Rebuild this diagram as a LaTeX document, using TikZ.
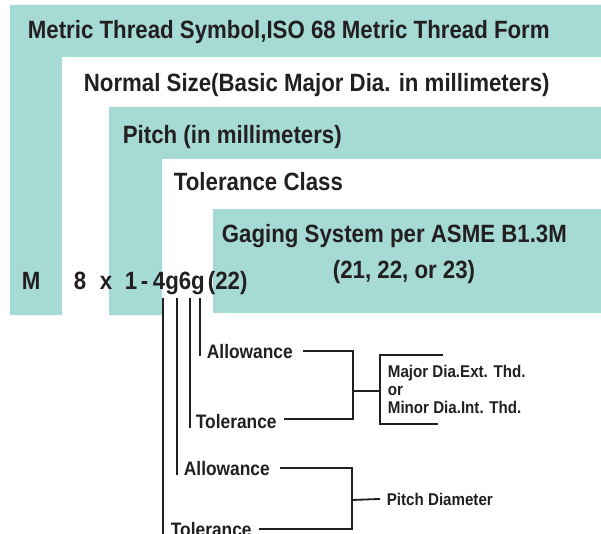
\documentclass[tikz,border=0pt]{standalone}
\usepackage{fontspec}
\setmainfont[FakeStretch=0.89]{Liberation Sans}
\definecolor{threadteal}{RGB}{166,218,213}
\definecolor{ink}{RGB}{35,31,32}

\tikzset{every picture/.style={line width=1.8pt}}
\tikzset{
  bigtxt/.style={anchor=base west, inner sep=0pt, text=ink, font=\fontsize{25}{30}\selectfont\bfseries},
  midtxt/.style={anchor=base west, inner sep=0pt, text=ink, font=\fontsize{19.5}{23}\selectfont\bfseries},
  smalltxt/.style={anchor=base west, inner sep=0pt, text=ink, font=\fontsize{17}{18}\selectfont\bfseries},
  lead/.style={draw=ink, line width=1.8pt},
}

\begin{document}
\begin{tikzpicture}[x=1pt,y=1pt,yscale=-1,xscale=1]
                \useasboundingbox (0,0) rectangle (601,534);

                %Shape: teal bands
                \fill [threadteal] (10,5) -- (601,5) -- (601,57) -- (62,57) -- (62,315) -- (10,315) -- cycle ;
                \fill [threadteal] (109,107) -- (601,107) -- (601,159) -- (162,159) -- (162,315) -- (109,315) -- cycle ;
                \fill [threadteal] (213,209) rectangle (601,313) ;

                %Text: band titles
                \node [bigtxt] (symbol) at (27,39) {Metric Thread Symbol,ISO 68 Metric Thread Form};
                \node [bigtxt] (size) at (83,92) {Normal Size(Basic Major Dia. in millimeters)};
                \node [bigtxt] (pitch) at (122,144) {Pitch (in millimeters)};
                \node [bigtxt] (class) at (173,191) {Tolerance Class};
                \node [bigtxt] (gage) at (221,243) {Gaging System per ASME B1.3M};
                \node [bigtxt] (gagenum) at (332,278) {(21, 22, or 23)};

                %Text: designation
                \node [bigtxt] (m) at (21,289) {M};
                \node [bigtxt] (dia) at (73,289) {8};
                \node [bigtxt] (times) at (99,289) {x};
                \node [bigtxt] (p) at (124,289) {1};
                \node [bigtxt] (dash) at (140,289) {-};
                \node [bigtxt] (tol) at (152,289) {4g6g};
                \node [bigtxt] (gnum) at (207,289) {(22)};

                %Text: breakdown
                \node [midtxt] (allow1) at (206,358) {Allowance};
                \node [midtxt] (toler1) at (195,428) {Tolerance};
                \node [midtxt] (allow2) at (183,475) {Allowance};
                \node [midtxt] (toler2) at (170,536) {Tolerance};
                \node [smalltxt, align=left] (thd) at (387,413) {Major Dia.Ext. Thd.\\or\\Minor Dia.Int. Thd.};
                \node [smalltxt] (pd) at (386,505) {Pitch Diameter};

                %Straight Lines: leaders under 4g6g
                \coordinate (v1) at (163,298);
                \coordinate (v2) at (177,298);
                \coordinate (v3) at (190,298);
                \coordinate (v4) at (200,298);
                \draw [lead] (v1) -- (v1 |- toler2.base) ;
                \draw [lead] (v2) -- (v2 |- allow2.base) ;
                \draw [lead] (v3) -- (v3 |- toler1.base) ;
                \draw [lead] (v4) -- ([yshift=-2pt]v4 |- allow1.base) ;

                %Straight Lines: brackets
                \coordinate (j1) at (353,391);
                \coordinate (b1) at (380,391);
                \coordinate (j2) at (352,500);
                \draw [lead] ([xshift=9pt]allow1.east) -| (j1) |- ([xshift=6pt,yshift=-2pt]toler1.east) ;
                \draw [lead] (j1) -- (b1) ;
                \draw [lead] (443,355) -| (b1) |- (438,424) ;
                \draw [lead] ([xshift=9pt]allow2.east) -| (j2) |- ([xshift=6pt]toler2.east) ;
                \draw [lead] (j2) -- ([xshift=-6pt]pd.west) ;
\end{tikzpicture}
\end{document}
